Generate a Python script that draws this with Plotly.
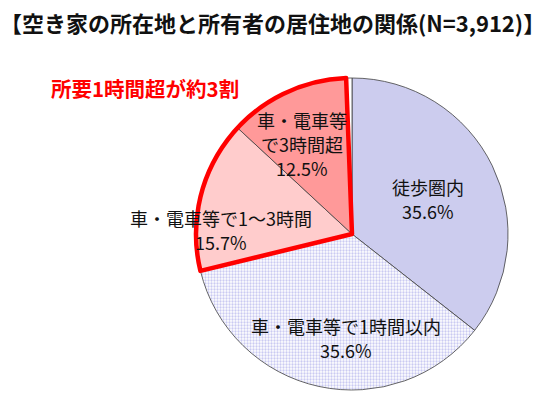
import plotly.graph_objects as go

# Data
categories = ["徒歩圏内", "車・電車等で1時間以内", "車・電車等で1～3時間", "車・電車等で3時間超", "不明"]
label_lines = [["徒歩圏内"], ["車・電車等で1時間以内"], ["車・電車等で1～3時間"], ["車・電車等", "で3時間超"], []]
values = [35.6, 35.6, 15.7, 12.5, 0.6]
colors = ["#CCCCEE", "#FFFFFF", "#FFCCCC", "#FF9999", "#FFFFFF"]
title_text = "【空き家の所在地と所有者の居住地の関係(N=3,912)】"
callout_text = "所要1時間超が約3割"

W, H = 545, 413
cx, cy, R = 352, 234, 156

dom = dict(x=[(cx - R) / W, (cx + R) / W], y=[(H - cy - R) / H, (H - cy + R) / H])

fig = go.Figure()

fig.add_trace(go.Pie(
    labels=categories,
    values=values,
    sort=False,
    direction="clockwise",
    rotation=0,
    textinfo="none",
    hoverinfo="skip",
    showlegend=False,
    marker=dict(
        colors=colors,
        line=dict(color="#404040", width=0.8),
        pattern=dict(
            shape=["", ".", "", "", ""],
            fgcolor="#CACAF2",
            bgcolor="#FFFFFF",
            size=3,
            solidity=0.45,
        ),
    ),
    domain=dom,
))

# Overlay highlighting slices with travel time over 1 hour
group_vals = [values[0] + values[1], values[2] + values[3], values[4]]
fig.add_trace(go.Pie(
    labels=["a", "b", "c"],
    values=group_vals,
    sort=False,
    direction="clockwise",
    rotation=0,
    textinfo="none",
    hoverinfo="skip",
    showlegend=False,
    marker=dict(
        colors=["rgba(0,0,0,0)"] * 3,
        line=dict(color=["rgba(0,0,0,0)", "#FF0000", "rgba(0,0,0,0)"], width=[0, 4.5, 0]),
    ),
    domain=dom,
))

# Label positions (pixel center of first line) and line spacing
label_pos = [(428, 187), (346, 326), (221, 218), (302, 120)]
line_gap = 24
annotations = []
for i, (px, py) in enumerate(label_pos):
    lines = label_lines[i] + [f"{values[i]}%"]
    for j, t in enumerate(lines):
        annotations.append(dict(
            x=px / W, y=1 - (py + j * line_gap) / H, xref="paper", yref="paper",
            text=t, showarrow=False, xanchor="center", yanchor="middle",
            font=dict(family="Noto Sans CJK JP", size=18, color="#111111"),
        ))

annotations.append(dict(
    x=145 / W, y=1 - 88 / H, xref="paper", yref="paper",
    text=f"<b>{callout_text}</b>", showarrow=False,
    xanchor="center", yanchor="middle",
    font=dict(family="Noto Sans CJK JP", size=20.5, color="#FF0000"),
))

annotations.append(dict(
    x=272 / W, y=1 - 22 / H, xref="paper", yref="paper",
    text=f"<b>{title_text}</b>", showarrow=False,
    xanchor="center", yanchor="middle",
    font=dict(family="Noto Sans CJK JP", size=22, color="#111111"),
))

fig.update_layout(
    width=W, height=H,
    margin=dict(l=0, r=0, t=0, b=0),
    paper_bgcolor="white",
    plot_bgcolor="white",
    annotations=annotations,
)

fig.write_html(
    "out.html",
    config={"displayModeBar": False},
    post_script="document.body.style.margin='0px';document.body.style.overflow='hidden';",
)
